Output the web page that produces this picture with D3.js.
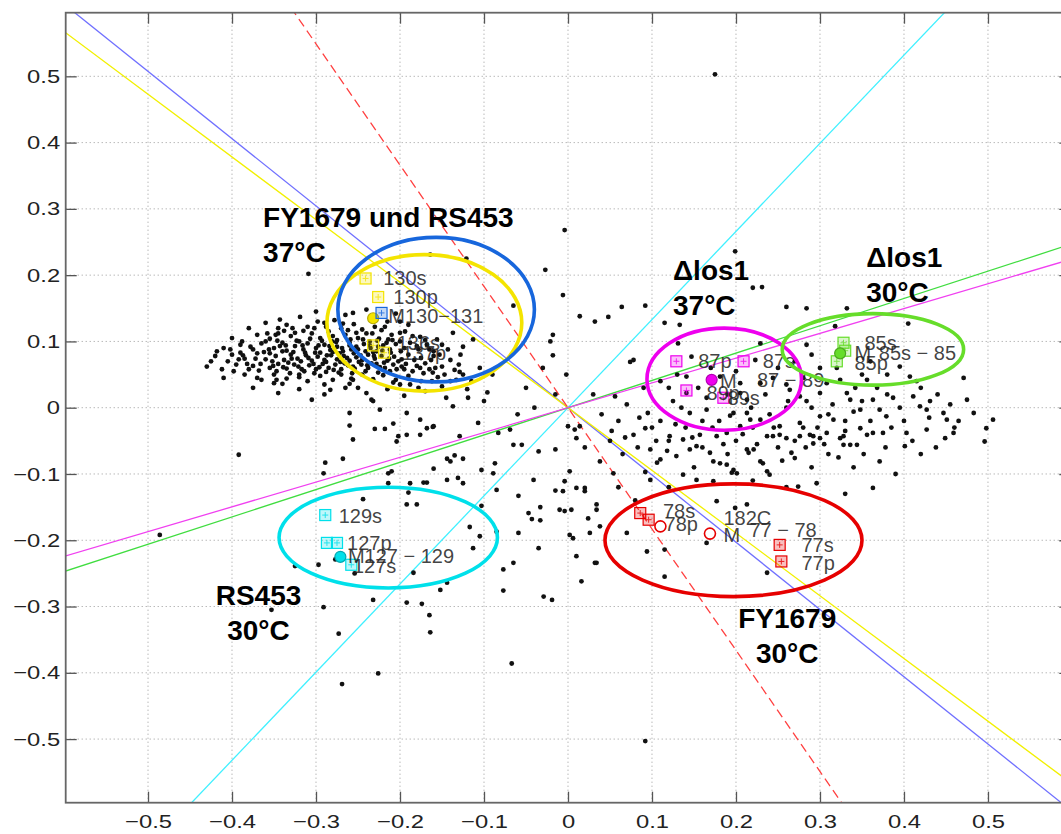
<!DOCTYPE html>
<html>
<head>
<meta charset="utf-8">
<script src="https://cdn.jsdelivr.net/npm/d3@7"></script>
<style>
  body { margin: 0; background: #fff; }
  svg { display: block; }
</style>
</head>
<body>
<div id="chart"></div>
<script>
// axis limits and ticks
const xLim = [-0.598, 0.598];
const yLim = [-0.596, 0.596];
const xTicks = [-0.5, -0.4, -0.3, -0.2, -0.1, 0, 0.1, 0.2, 0.3, 0.4, 0.5];
const yTicks = [-0.5, -0.4, -0.3, -0.2, -0.1, 0, 0.1, 0.2, 0.3, 0.4, 0.5];

// lines through the origin: slope per group
const lineGroups = ["blue", "yellow", "red", "cyan", "green", "magenta"];
const lineSlopes = [-1.015, -0.946, -1.83, 1.33, 0.412, 0.374];

// black points
const leftCluster = [
  [-0.343,0.133],[-0.319,0.137],[-0.30,0.145],[-0.265,0.14],[-0.24,0.148],[-0.205,0.142],[-0.36,0.128],
  [-0.38,0.12],[-0.335,0.125],[-0.31,0.122],[-0.29,0.128],[-0.27,0.12],[-0.255,0.126],[-0.23,0.122],[-0.215,0.13],[-0.19,0.125],[-0.245,0.118],
  [-0.40,0.105],[-0.37,0.11],[-0.355,0.104],[-0.345,0.112],[-0.33,0.108],[-0.32,0.1],[-0.305,0.112],[-0.295,0.105],[-0.285,0.115],[-0.275,0.102],
  [-0.265,0.11],[-0.25,0.105],[-0.24,0.112],[-0.225,0.104],[-0.21,0.11],[-0.2,0.1],[-0.185,0.108],[-0.17,0.102],[-0.315,0.116],[-0.26,0.098],
  [-0.41,0.09],[-0.39,0.095],[-0.375,0.088],[-0.365,0.097],[-0.35,0.09],[-0.34,0.098],[-0.335,0.086],[-0.325,0.093],[-0.315,0.088],[-0.31,0.097],
  [-0.3,0.09],[-0.29,0.095],[-0.283,0.087],[-0.275,0.092],[-0.268,0.085],[-0.26,0.094],[-0.25,0.088],[-0.243,0.096],[-0.235,0.09],[-0.228,0.085],
  [-0.22,0.094],[-0.212,0.088],[-0.205,0.096],[-0.195,0.09],[-0.18,0.093],[-0.165,0.088],[-0.15,0.095],[-0.355,0.082],[-0.295,0.083],[-0.255,0.082],
  [-0.42,0.078],[-0.4,0.08],[-0.385,0.074],[-0.37,0.082],[-0.36,0.073],[-0.348,0.078],[-0.338,0.072],[-0.33,0.08],[-0.322,0.074],[-0.312,0.079],
  [-0.305,0.071],[-0.298,0.077],[-0.29,0.072],[-0.282,0.079],[-0.275,0.073],[-0.267,0.078],[-0.26,0.071],[-0.252,0.076],[-0.245,0.072],[-0.238,0.08],
  [-0.23,0.074],[-0.222,0.078],[-0.215,0.071],[-0.207,0.077],[-0.198,0.073],[-0.19,0.08],[-0.175,0.075],[-0.16,0.078],[-0.14,0.072],[-0.34,0.085],
  [-0.28,0.084],[-0.232,0.084],
  [-0.43,0.062],[-0.395,0.065],[-0.38,0.058],[-0.366,0.066],[-0.355,0.06],[-0.345,0.066],[-0.335,0.059],[-0.326,0.065],[-0.317,0.058],[-0.308,0.064],
  [-0.3,0.058],[-0.292,0.066],[-0.285,0.06],[-0.277,0.065],[-0.27,0.058],[-0.262,0.064],[-0.254,0.059],[-0.246,0.065],[-0.238,0.06],[-0.228,0.066],
  [-0.218,0.06],[-0.208,0.065],[-0.195,0.058],[-0.18,0.063],[-0.165,0.058],[-0.15,0.062],[-0.13,0.065],
  [-0.41,0.045],[-0.385,0.05],[-0.365,0.042],[-0.35,0.05],[-0.335,0.044],[-0.32,0.05],[-0.31,0.04],[-0.295,0.048],[-0.28,0.042],[-0.27,0.05],
  [-0.258,0.044],[-0.245,0.05],[-0.232,0.043],[-0.22,0.049],[-0.205,0.042],[-0.19,0.048],[-0.175,0.04],[-0.155,0.046],[-0.14,0.04],[-0.34,0.036],[-0.26,0.036],
  [-0.375,0.03],[-0.345,0.022],[-0.32,0.028],[-0.29,0.02],[-0.265,0.03],[-0.24,0.022],[-0.215,0.028],[-0.195,0.018],[-0.17,0.025],[-0.145,0.015],
  [-0.12,0.028],[-0.305,0.012],[-0.232,0.01],
  [-0.352,0.07],[-0.343,0.093],[-0.333,0.068],[-0.327,0.084],[-0.318,0.07],[-0.313,0.083],[-0.303,0.066],[-0.297,0.094],[-0.288,0.069],[-0.281,0.1],
  [-0.272,0.082],[-0.266,0.067],[-0.258,0.088],[-0.249,0.069],[-0.241,0.085],[-0.234,0.067],[-0.226,0.092],[-0.219,0.068],[-0.211,0.083],[-0.202,0.07],
  [-0.347,0.055],[-0.331,0.052],[-0.314,0.055],[-0.302,0.052],[-0.288,0.054],[-0.273,0.053],[-0.257,0.052],[-0.241,0.055],[-0.226,0.053],[-0.212,0.055],
  [-0.36,0.1],[-0.345,0.12],[-0.325,0.113],[-0.302,0.12],[-0.28,0.108],[-0.262,0.117],[-0.236,0.1],[-0.222,0.117],[-0.375,0.063],[-0.39,0.083],
  [-0.405,0.07],[-0.37,0.045],[-0.35,0.037],[-0.29,0.035],[-0.25,0.03],[-0.2,0.035],[-0.185,0.055],[-0.17,0.067],[-0.16,0.085],[-0.2,0.13],
  [-0.347,0.042],[-0.32,0.046],[-0.283,0.027],[-0.256,0.042],
  [-0.356,0.088],[-0.351,0.063],[-0.346,0.101],[-0.339,0.061],[-0.336,0.094],[-0.329,0.074],[-0.323,0.101],[-0.321,0.062],[-0.316,0.094],[-0.309,0.075],
  [-0.307,0.104],[-0.301,0.083],[-0.296,0.061],[-0.293,0.101],[-0.287,0.079],[-0.284,0.093],[-0.279,0.057],[-0.276,0.099],[-0.271,0.069],[-0.269,0.09],
  [-0.263,0.075],[-0.259,0.103],[-0.256,0.062],[-0.252,0.092],[-0.247,0.079],[-0.244,0.103],[-0.239,0.064],[-0.236,0.094],[-0.231,0.078],[-0.227,0.101],
  [-0.224,0.061],[-0.221,0.086],[-0.216,0.098],[-0.213,0.074],[-0.209,0.102],[-0.204,0.058],[-0.199,0.085],[-0.193,0.066],[-0.188,0.098],[-0.183,0.072],
  [-0.178,0.088],[-0.172,0.052],[-0.168,0.095],[-0.163,0.072],[-0.158,0.06],[-0.153,0.08],[-0.147,0.05],[-0.143,0.088],[-0.135,0.057],[-0.128,0.08],
  [-0.425,0.07],[-0.418,0.085],[-0.412,0.058],[-0.402,0.088],[-0.398,0.055],[-0.392,0.073],[-0.388,0.1],[-0.382,0.066],[-0.378,0.092],[-0.372,0.074],
  [-0.368,0.056],[-0.362,0.084],[-0.358,0.112],[-0.348,0.11],[-0.338,0.116],[-0.328,0.12],[-0.298,0.13],[-0.288,0.122],[-0.278,0.132],[-0.268,0.127],
  [-0.252,0.113],[-0.233,0.112],[-0.218,0.122],[-0.194,0.115],
  [-0.188,0.035],[-0.178,0.03],[-0.162,0.04],[-0.15,0.032],[-0.133,0.042],[-0.125,0.05],[-0.115,0.04],[-0.105,0.06]
];
const upperPoints = [
  [-0.256,0.143],[-0.214,0.103],[-0.2,0.113],[-0.176,0.107],[-0.156,0.103],[-0.137,0.113],[-0.125,0.092],[-0.113,0.103],[-0.161,0.053],[-0.129,0.054],
  [-0.176,0.06],[-0.198,0.062],[-0.208,0.038],[-0.234,0.012],[-0.224,-0.003],[-0.26,-0.008],[-0.192,-0.008],[-0.176,-0.018],[-0.161,-0.029],[-0.119,0.015],
  [-0.096,0.023],[-0.137,0.002],[-0.164,0.231],[-0.121,0.225],[-0.309,0.202],[-0.027,0.208],[-0.065,0.154],[-0.018,0.11],[-0.021,0.1],[-0.018,0.079],
  [-0.387,0.079],[-0.004,0.268],[-0.006,0.17],[0.175,0.503],
  [-0.09,0.05],[-0.05,0.03],[-0.03,0.06],[-0.1,0.01],[-0.06,-0.01],[-0.04,0.0],[-0.015,0.02],
  [0.014,0.138],[0.032,0.13],[0.048,0.137],[0.064,0.152],[0.092,0.154],[0.115,0.128],[0.133,0.125],[0.199,0.236],[0.22,0.181],[0.231,0.182],
  [0.26,0.152],[0.284,0.15],[0.332,0.15],[0.318,0.123],[0.405,0.127],[0.074,0.069],[0.078,0.072],[-0.002,0.05],[0.056,0.017],[0.092,-0.031],
  [0.008,-0.033],[0.147,0.077],[0.131,0.097],[0.229,0.097],[0.223,0.072],[0.29,0.08],[0.284,0.095]
];
const rightCluster = [
  [0.205,0.037],[0.213,0.012],[0.229,0.037],[0.244,0.045],[0.26,0.035],[0.264,0.027],[0.276,0.017],[0.284,0.01],[0.3,0.022],[0.308,0.037],
  [0.324,0.042],[0.332,0.022],[0.336,0.012],[0.34,-0.006],[0.348,-0.003],[0.356,0.042],[0.363,0.012],[0.371,-0.003],[0.379,-0.013],[0.387,0.015],
  [0.395,0.062],[0.407,0.047],[0.411,0.017],[0.419,0.002],[0.427,-0.003],[0.431,0.01],[0.447,-0.008],[0.451,-0.018],[0.471,0.045],[0.475,0.012],
  [0.483,-0.008],[0.498,-0.031],[0.506,-0.018],[0.348,-0.031],[0.316,-0.018],[0.3,-0.013],[0.276,-0.023],[0.252,-0.028],[0.229,-0.018],[0.213,-0.008],
  [0.205,-0.028],[0.189,-0.038],[0.177,-0.043],[0.237,-0.043],[0.292,-0.043],[0.328,-0.043],[0.363,-0.038],[0.403,-0.038],[0.427,-0.033],[0.459,-0.038],
  [0.141,0.022],[0.145,-0.008],[0.165,-0.003],[0.197,-0.008],[0.205,0.022],[0.217,-0.018],[0.141,0.047],[0.181,0.047],[0.17,0.06],[0.155,0.03],
  [0.19,0.02],[0.125,0.01],[0.11,0.04],
  [0.04,-0.01],[0.06,-0.02],[0.07,0.005],[0.085,-0.015],[0.1,-0.03],[0.05,-0.05],[0.03,0.02],[0.02,-0.06],[0.065,-0.07],[0.11,-0.02],
  [0.09,0.03],[0.12,-0.05],[0.14,-0.03],[0.16,-0.02],[0.18,-0.02],[0.2,-0.05],[0.22,-0.03],[0.24,-0.01],[0.26,0.0],[0.28,-0.03],
  [0.31,-0.01],[0.33,-0.02],[0.35,0.01],[0.38,0.02],[0.4,-0.02],[0.42,0.03],[0.44,0.02],[0.46,-0.03],[0.3,0.06],[0.27,0.07],
  [0.35,0.05],[0.25,-0.06],[0.19,-0.07],[0.31,-0.07],[0.34,-0.09],[0.29,-0.09],[0.22,-0.11],[0.26,-0.12],[0.33,-0.13],[0.39,-0.1],
  [0.42,-0.07],[0.15,-0.09],[0.12,-0.12],[0.08,-0.14],[0.06,-0.12],
  [0.078,-0.041],[0.098,-0.063],[0.11,-0.078],[0.106,-0.083],[0.121,-0.043],[0.129,-0.073],[0.137,-0.048],[0.145,-0.063],[0.153,-0.058],[0.157,-0.041],
  [0.169,-0.068],[0.173,-0.081],[0.181,-0.084],[0.189,-0.086],[0.197,-0.094],[0.201,-0.099],[0.213,-0.063],[0.215,-0.068],[0.221,-0.063],[0.229,-0.081],
  [0.232,-0.084],[0.237,-0.096],[0.244,-0.043],[0.252,-0.041],[0.26,-0.046],[0.266,-0.068],[0.27,-0.076],[0.276,-0.043],[0.288,-0.041],[0.292,-0.054],
  [0.3,-0.046],[0.308,-0.038],[0.324,-0.046],[0.328,-0.056],[0.336,-0.056],[0.344,-0.056],[0.356,-0.041],[0.375,-0.038],[0.371,-0.081],[0.401,-0.058],
  [0.449,-0.046],[0.496,-0.051],[0.363,-0.121],[0.296,-0.114],[0.274,-0.119],[0.24,-0.101],[0.195,-0.098],[0.173,-0.111],[0.153,-0.109],[0.137,-0.101],
  [0.098,-0.109],[0.092,-0.097],[0.054,-0.099],[0.038,-0.081],[0.02,-0.121],
  [0.052,-0.035],[0.068,-0.045],[0.083,-0.06],[0.095,-0.008],[0.105,-0.05],[0.118,-0.065],[0.128,-0.025],[0.135,0.0],[0.148,-0.045],[0.16,-0.06],
  [0.165,0.015],[0.172,-0.03],[0.185,-0.055],[0.193,-0.012],[0.208,-0.04],[0.218,0.0],[0.225,-0.055],[0.235,0.02],[0.245,-0.03],[0.255,-0.08],
  [0.262,0.01],[0.27,-0.05],[0.283,-0.06],[0.29,0.0],[0.297,-0.03],[0.305,-0.055],[0.315,0.005],[0.322,-0.075],[0.33,-0.035],[0.342,0.03],
  [0.352,-0.07],[0.36,-0.02],[0.368,0.03],[0.378,-0.06],[0.385,-0.03],[0.395,0.0],[0.41,-0.05],[0.415,0.04],[0.43,-0.015],[0.438,-0.06],
  [0.455,0.005],[0.465,-0.02],[0.12,0.03],[0.13,0.05],[0.2,0.055],[0.25,0.06],[0.28,0.045],[0.32,0.06],[0.38,0.05],[0.36,0.07]
];
const lowerPoints = [
  [0.016,-0.262],[0.034,-0.154],[0.032,-0.234],[0.038,-0.179],[0.026,-0.189],[0.07,-0.189],[0.094,-0.217],[0.115,-0.255],[0.115,-0.214],[0.177,-0.141],
  [0.213,-0.146],[0.199,-0.151],[0.165,-0.204],[0.237,-0.249],[0.092,-0.503],
  [-0.392,-0.071],[-0.26,-0.027],[-0.23,-0.032],[-0.218,-0.032],[-0.208,-0.024],[-0.202,-0.043],[-0.192,-0.041],[-0.204,-0.051],[-0.176,-0.041],[-0.168,-0.031],
  [-0.16,-0.028],[-0.256,-0.048],[-0.289,-0.083],[-0.268,-0.077],[-0.291,-0.099],[-0.144,-0.077],[-0.14,-0.081],[-0.135,-0.072],[-0.125,-0.077],[-0.129,-0.043],
  [-0.107,-0.023],[-0.083,-0.038],[-0.069,-0.033],[-0.065,-0.056],[-0.055,-0.056],[-0.035,-0.066],[-0.015,-0.063],[0.0,-0.028],[0.01,-0.046],[0.014,-0.028],
  [-0.214,-0.099],[-0.21,-0.096],[-0.214,-0.114],[-0.188,-0.114],[-0.172,-0.113],[-0.168,-0.113],[-0.16,-0.092],[-0.144,-0.109],[-0.131,-0.106],[-0.125,-0.114],
  [-0.103,-0.094],[-0.089,-0.099],[-0.087,-0.084],[-0.244,-0.138],[-0.192,-0.146],[-0.19,-0.128],[-0.18,-0.146],[-0.103,-0.148],[-0.085,-0.124],[-0.059,-0.133],
  [-0.041,-0.109],[-0.033,-0.15],[-0.047,-0.159],[-0.043,-0.168],[-0.033,-0.17],[-0.015,-0.125],[-0.006,-0.126],[-0.01,-0.154],[-0.004,-0.156],[0.004,-0.154],
  [0.024,-0.167],[0.034,-0.146],[0.01,-0.121],[0.02,-0.126],[0.002,-0.096],[-0.004,-0.111],[-0.117,-0.18],[-0.105,-0.194],[-0.085,-0.187],[-0.059,-0.189],
  [-0.035,-0.212],[0.002,-0.192],[0.006,-0.197],[0.01,-0.224],[0.034,-0.234],[-0.065,-0.234],[-0.077,-0.244],[-0.113,-0.212],[-0.325,-0.239],[-0.297,-0.237],
  [-0.277,-0.229],[-0.254,-0.25],[-0.184,-0.249],[-0.144,-0.264],[-0.152,-0.275],[-0.192,-0.294],[-0.174,-0.296],[-0.232,-0.29],[-0.291,-0.301],[-0.165,-0.313],
  [-0.164,-0.339],[-0.273,-0.341],[-0.226,-0.401],[-0.269,-0.417],[-0.077,-0.276],[-0.029,-0.285],[-0.019,-0.29],[-0.067,-0.386],[-0.353,-0.305],[-0.486,-0.192]
];
const dots = [...leftCluster, ...upperPoints, ...rightCluster, ...lowerPoints];

// coloured strain markers: [group, x, y, kind]
const markers = [
  ["FY37", -0.241, 0.195, "sq"], ["FY37", -0.226, 0.167, "sq"], ["FY37", -0.232, 0.094, "sq"], ["FY37", -0.219, 0.083, "sq"],
  ["FY37", -0.232, 0.135, "mean"], ["RS37", -0.222, 0.143, "sq"],
  ["LOS37", 0.129, 0.07, "sq"], ["LOS37", 0.209, 0.07, "sq"], ["LOS37", 0.141, 0.026, "sq"], ["LOS37", 0.185, 0.015, "sq"],
  ["LOS37", 0.171, 0.042, "mean"],
  ["LOS30", 0.328, 0.098, "sq"], ["LOS30", 0.32, 0.07, "sq"], ["LOS30", 0.33, 0.086, "sq"], ["LOS30", 0.324, 0.082, "mean"],
  ["RS30", -0.289, -0.162, "sq"], ["RS30", -0.287, -0.204, "sq"], ["RS30", -0.275, -0.204, "sq"], ["RS30", -0.258, -0.237, "sq"],
  ["RS30", -0.271, -0.225, "mean"],
  ["FY30", 0.086, -0.159, "sq"], ["FY30", 0.096, -0.169, "sq"], ["FY30", 0.11, -0.179, "ring"], ["FY30", 0.252, -0.207, "sq"],
  ["FY30", 0.254, -0.232, "sq"], ["FY30", 0.169, -0.19, "ring"]
];
// marker labels: [text, x (left), y (middle)]
const markerLabels = [
  ["130s", -0.22, 0.195], ["130p", -0.208, 0.167], ["M130−131", -0.214, 0.138],
  ["136s", -0.204, 0.097], ["137p", -0.198, 0.082],
  ["87p", 0.155, 0.07], ["87s", 0.232, 0.07], ["M", 0.181, 0.04], ["87 − 89", 0.225, 0.042], ["89p", 0.165, 0.022], ["89s", 0.19, 0.015],
  ["85s", 0.353, 0.098], ["M", 0.341, 0.083], ["85s − 85", 0.37, 0.083], ["85p", 0.341, 0.067],
  ["129s", -0.273, -0.164], ["127p", -0.263, -0.204], ["M127 − 129", -0.262, -0.224], ["127s", -0.256, -0.239],
  ["78s", 0.113, -0.156], ["78p", 0.115, -0.176], ["182C", 0.185, -0.166], ["M", 0.185, -0.192], ["77 − 78", 0.216, -0.184],
  ["77s", 0.278, -0.207], ["77p", 0.278, -0.234]
];

// ellipses round each strain group: [group, cx, cy, rx, ry]
const ellipses = [
  ["FY37", -0.171, 0.128, 0.116, 0.103],
  ["RS37", -0.157, 0.148, 0.117, 0.109],
  ["LOS37", 0.186, 0.043, 0.092, 0.077],
  ["LOS30", 0.363, 0.088, 0.108, 0.054],
  ["RS30", -0.214, -0.196, 0.130, 0.076],
  ["FY30", 0.197, -0.200, 0.153, 0.085]
];

// group annotations: [lines, x, y of first baseline, anchor]
const annotations = [
  [["FY1679 und RS453", "37°C"], -0.363, 0.272, "start"],
  [["Δlos1", "37°C"], 0.125, 0.192, "start"],
  [["Δlos1", "30°C"], 0.355, 0.212, "start"],
  [["RS453", "30°C"], -0.3685, -0.298, "middle"],
  [["FY1679", "30°C"], 0.261, -0.332, "middle"]
];

const groupColor = {
  FY37: "#f4e400", RS37: "#1766dc", LOS37: "#ee00ee", LOS30: "#66dd2a", RS30: "#00e0ea", FY30: "#e60000"
};
const lineColor = {
  blue: "#7070ff", yellow: "#f2f000", red: "#ff4040", cyan: "#40f0ff", green: "#40dd40", magenta: "#f040f0"
};

const W = 1061, H = 834;
const x = d3.scaleLinear().domain(xLim).range([65.7, 1070.3]);
const y = d3.scaleLinear().domain(yLim).range([802.7, 12.7]);
const fmt = d => d === 0 ? "0" : d3.format(".1f")(d);

const svg = d3.select("#chart").append("svg")
  .attr("width", W).attr("height", H);

svg.append("defs").append("clipPath").attr("id", "plotClip")
  .append("rect")
  .attr("x", x(xLim[0])).attr("y", y(yLim[1]))
  .attr("width", x(xLim[1]) - x(xLim[0]))
  .attr("height", y(yLim[0]) - y(yLim[1]));

const plot = svg.append("g").attr("clip-path", "url(#plotClip)");

// dotted grid
plot.append("g").selectAll("line").data(xTicks).join("line")
  .attr("x1", d => x(d)).attr("x2", d => x(d))
  .attr("y1", y(yLim[0])).attr("y2", y(yLim[1]))
  .attr("stroke", "#999").attr("stroke-width", 1).attr("stroke-dasharray", "1,3");
plot.append("g").selectAll("line").data(yTicks).join("line")
  .attr("y1", d => y(d)).attr("y2", d => y(d))
  .attr("x1", x(xLim[0])).attr("x2", x(xLim[1]))
  .attr("stroke", "#999").attr("stroke-width", 1).attr("stroke-dasharray", "1,3");

// lines through the origin
plot.append("g").selectAll("line").data(lineGroups).join("line")
  .attr("x1", x(-0.7)).attr("x2", x(0.7))
  .attr("y1", (d, i) => y(-0.7 * lineSlopes[i]))
  .attr("y2", (d, i) => y(0.7 * lineSlopes[i]))
  .attr("stroke", d => lineColor[d])
  .attr("stroke-width", 1.3)
  .attr("stroke-dasharray", d => d === "red" ? "9,5" : null);

// black points
plot.append("g").selectAll("circle").data(dots).join("circle")
  .attr("cx", d => x(d[0])).attr("cy", d => y(d[1]))
  .attr("r", 2.4).attr("fill", "#111");

// strain markers
const mk = plot.append("g");
markers.forEach(([g, mx, my, kind]) => {
  const c = groupColor[g];
  const px = x(mx), py = y(my);
  if (kind === "sq") {
    mk.append("rect").attr("x", px - 5.5).attr("y", py - 5.5).attr("width", 11).attr("height", 11)
      .attr("fill", c).attr("fill-opacity", 0.25).attr("stroke", c).attr("stroke-width", 1.2);
    mk.append("path").attr("d", `M${px - 3},${py}H${px + 3}M${px},${py - 3}V${py + 3}`)
      .attr("stroke", c).attr("stroke-width", 1).attr("opacity", 0.8);
  } else if (kind === "mean") {
    mk.append("circle").attr("cx", px).attr("cy", py).attr("r", 5.5)
      .attr("fill", c).attr("stroke", d3.color(c).darker(0.8)).attr("stroke-width", 1.2);
  } else {
    mk.append("circle").attr("cx", px).attr("cy", py).attr("r", 5.5)
      .attr("fill", "none").attr("stroke", c).attr("stroke-width", 1.6);
  }
});

// marker labels
plot.append("g").selectAll("text").data(markerLabels).join("text")
  .attr("x", d => x(d[1])).attr("y", d => y(d[2]))
  .attr("dy", "0.35em")
  .attr("font-family", "'Liberation Sans', Arial, sans-serif")
  .attr("font-size", 20)
  .attr("fill", "#222").attr("fill-opacity", 0.85)
  .text(d => d[0]);

// axes: ticks point inwards on all four sides
const axisFont = g => g.selectAll("text")
  .attr("font-family", "'Liberation Sans', Arial, sans-serif")
  .attr("font-size", 19).attr("fill", "#222");
const styleTicks = g => {
  g.select(".domain").remove();
  g.selectAll(".tick line").attr("stroke", "#555").attr("stroke-width", 1.3);
};

svg.append("g").attr("transform", `translate(0,${y(yLim[0])})`)
  .call(d3.axisBottom(x).tickValues(xTicks).tickSizeInner(-11).tickSizeOuter(0).tickPadding(12).tickFormat(fmt))
  .call(styleTicks).call(axisFont)
  .selectAll("text").attr("transform", "scale(1.25,1)");

svg.append("g").attr("transform", `translate(0,${y(yLim[1])})`)
  .call(d3.axisTop(x).tickValues(xTicks).tickSizeInner(-11).tickSizeOuter(0).tickFormat(""))
  .call(styleTicks);

svg.append("g").attr("transform", `translate(${x(xLim[0])},0)`)
  .call(d3.axisLeft(y).tickValues(yTicks).tickSizeInner(-11).tickSizeOuter(0).tickFormat(fmt))
  .call(styleTicks).call(axisFont)
  .selectAll("text").attr("x", -4.5).attr("transform", "scale(1.25,1)");

svg.append("g").attr("transform", `translate(${x(xLim[1])},0)`)
  .call(d3.axisRight(y).tickValues(yTicks).tickSizeInner(-11).tickSizeOuter(0).tickFormat(""))
  .call(styleTicks);

// frame
svg.append("rect")
  .attr("x", x(xLim[0])).attr("y", y(yLim[1]))
  .attr("width", x(xLim[1]) - x(xLim[0]))
  .attr("height", y(yLim[0]) - y(yLim[1]))
  .attr("fill", "none").attr("stroke", "#666").attr("stroke-width", 1.8);

// ellipses
svg.append("g").selectAll("ellipse").data(ellipses).join("ellipse")
  .attr("cx", d => x(d[1])).attr("cy", d => y(d[2]))
  .attr("rx", d => x(d[3]) - x(0)).attr("ry", d => y(0) - y(d[4]))
  .attr("fill", "none")
  .attr("stroke", d => groupColor[d[0]])
  .attr("stroke-width", 3.6);

// group annotations
const ann = svg.append("g")
  .attr("font-family", "'Liberation Sans', Arial, sans-serif")
  .attr("font-weight", "bold").attr("font-size", 28).attr("fill", "#000");
annotations.forEach(([lines, ax, ay, anchor]) => {
  const t = ann.append("text").attr("x", x(ax)).attr("y", y(ay)).attr("text-anchor", anchor);
  lines.forEach((s, i) => t.append("tspan").attr("x", x(ax)).attr("dy", i === 0 ? 0 : 35).text(s));
});
</script>
</body>
</html>
